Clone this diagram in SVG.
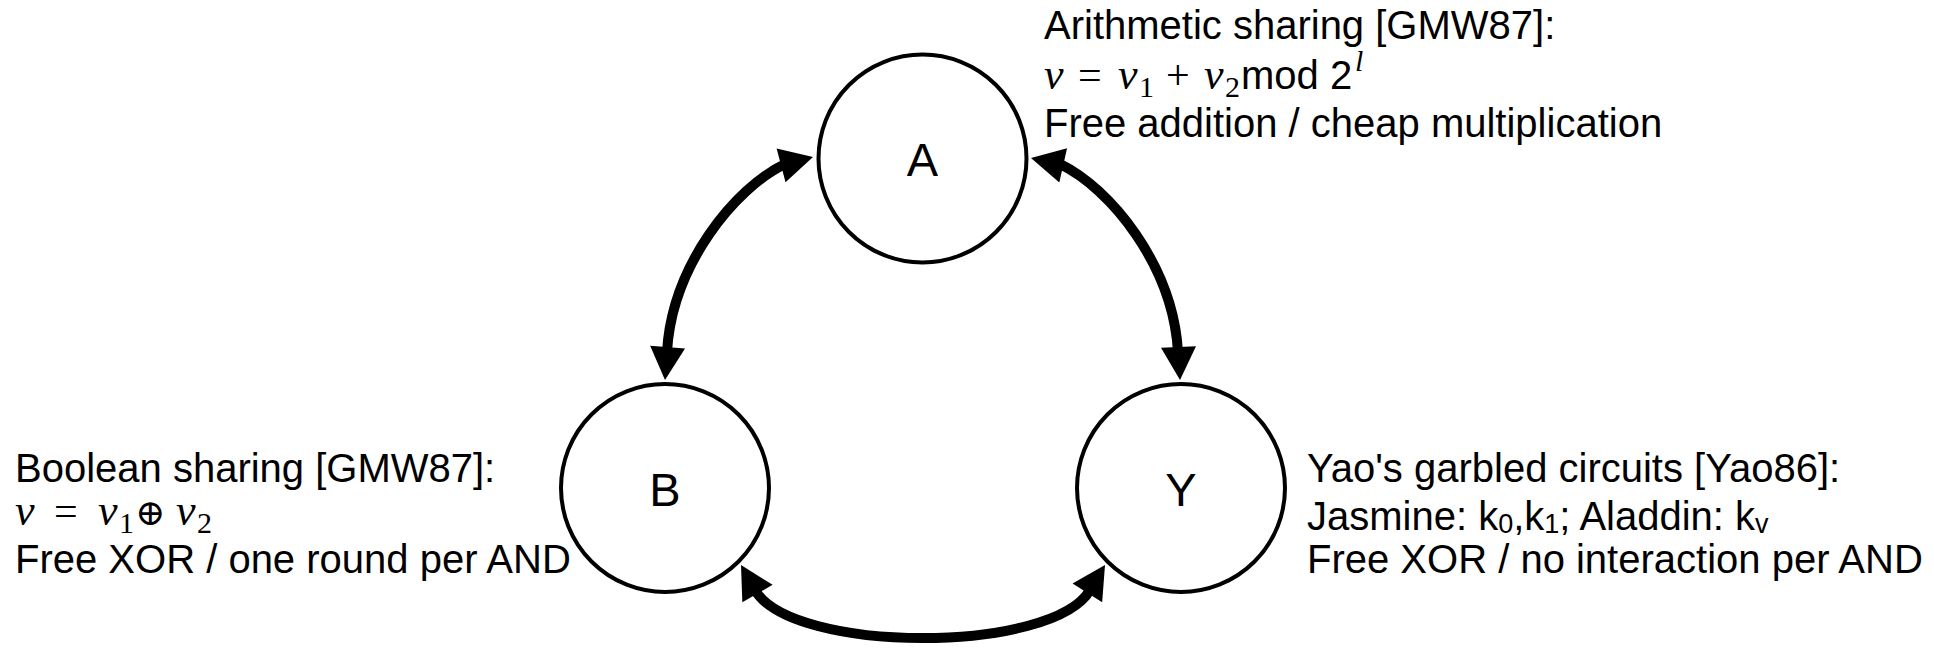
<svg xmlns="http://www.w3.org/2000/svg" xmlns:xlink="http://www.w3.org/1999/xlink" width="1934" height="648" viewBox="0 0 1934 648">
<style>
.t{font-family:"Liberation Sans",Arial,sans-serif;font-size:40px;fill:#000}
.mi{font-family:"Liberation Serif","Times New Roman",serif;font-style:italic;font-size:44px}
.mr{font-family:"Liberation Serif","Times New Roman",serif;font-style:normal;font-size:42px}
.ms{font-family:"Liberation Serif","Times New Roman",serif;font-style:normal;font-size:30px}
.sup{font-family:"Liberation Serif","Times New Roman",serif;font-style:italic;font-size:30px}
.ox{font-family:"DejaVu Serif",serif;font-style:normal;font-size:36px}
.sb{font-size:27px}
.node circle{fill:#fff;stroke:#000;stroke-width:4}
.lbl{font-family:"Liberation Sans",Arial,sans-serif;font-size:47px;text-anchor:middle;fill:#000}
.conn path{fill:none;stroke:#000;stroke-width:10}
.conn use{fill:#000}
</style>
<defs>
<path id="ah" d="M0,0 L-33,-17.5 L-33,17.5 Z"/>
</defs>
<rect width="1934" height="648" fill="#fff"/>
<g id="connectors" class="conn">
<path d="M785,164 C735,188 672,265 667,352"/>
<use xlink:href="#ah" transform="translate(813,157) rotate(-14.7)"/>
<use xlink:href="#ah" transform="translate(665,380) rotate(94.5)"/>
<path d="M1060,164 C1110,188 1173,265 1178,352"/>
<use xlink:href="#ah" transform="translate(1031,158) rotate(-167.2)"/>
<use xlink:href="#ah" transform="translate(1180,380) rotate(87.4)"/>
<path d="M755,590 C792,654 1053,654 1090,590"/>
<use xlink:href="#ah" transform="translate(741,565) rotate(-120)"/>
<use xlink:href="#ah" transform="translate(1105,565) rotate(-57.7)"/>
</g>
<g id="node-A" class="node">
<circle cx="922.5" cy="158.5" r="104"/>
<text class="lbl" x="922.5" y="176">A</text>
</g>
<g id="node-B" class="node">
<circle cx="665" cy="488" r="104"/>
<text class="lbl" x="665" y="506">B</text>
</g>
<g id="node-Y" class="node">
<circle cx="1181" cy="488" r="104"/>
<text class="lbl" x="1181" y="506">Y</text>
</g>
<g id="label-A">
<text class="t" x="1044" y="39">Arithmetic sharing [GMW87]:</text>
<text class="t" y="89"><tspan class="mi" x="1044">v</tspan><tspan class="mr" x="1078">=</tspan><tspan class="mi" x="1118">v</tspan><tspan class="ms" x="1139" dy="8">1</tspan><tspan class="mr" x="1166" dy="-8">+</tspan><tspan class="mi" x="1204">v</tspan><tspan class="ms" x="1225" dy="8">2</tspan><tspan x="1241" dy="-8">mod 2</tspan><tspan class="sup" x="1355" dy="-18">l</tspan></text>
<text class="t" x="1044" y="137">Free addition / cheap multiplication</text>
</g>
<g id="label-B">
<text class="t" x="15" y="482">Boolean sharing [GMW87]:</text>
<text class="t" y="525"><tspan class="mi" x="15">v</tspan><tspan class="mr" x="54">=</tspan><tspan class="mi" x="98">v</tspan><tspan class="ms" x="119" dy="8">1</tspan><tspan class="ox" x="135" dy="-8">⊕</tspan><tspan class="mi" x="176">v</tspan><tspan class="ms" x="197" dy="8">2</tspan></text>
<text class="t" x="15" y="573">Free XOR / one round per AND</text>
</g>
<g id="label-Y">
<text class="t" x="1307" y="482">Yao's garbled circuits [Yao86]:</text>
<text class="t" x="1307" y="530">Jasmine: k<tspan class="sb" dy="3">0</tspan><tspan dy="-3">,k</tspan><tspan class="sb" dy="3">1</tspan><tspan dy="-3">; Aladdin: k</tspan><tspan class="sb" dy="3">v</tspan></text>
<text class="t" x="1307" y="573">Free XOR / no interaction per AND</text>
</g>
</svg>
